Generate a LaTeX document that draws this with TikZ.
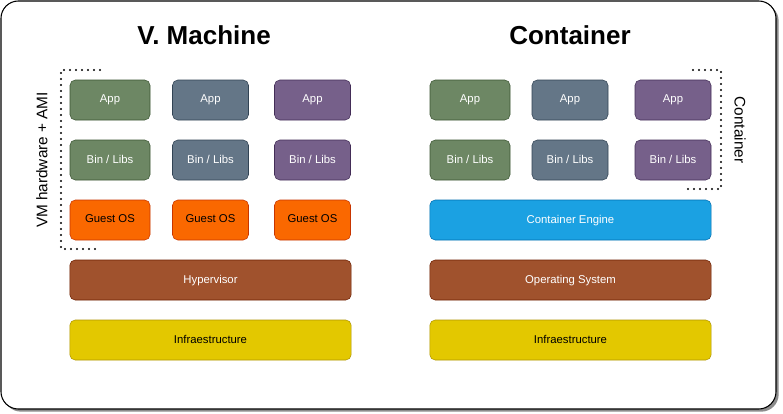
\documentclass[tikz,border=0pt]{standalone}
\usepackage{fontspec}
\setmainfont{Liberation Sans}
\usetikzlibrary{shadows}

\definecolor{appgreen}{HTML}{6D8764}
\definecolor{appgreenline}{HTML}{3A5431}
\definecolor{appslate}{HTML}{647687}
\definecolor{appslateline}{HTML}{314354}
\definecolor{apppurple}{HTML}{76608A}
\definecolor{apppurpleline}{HTML}{432D57}
\definecolor{osorange}{HTML}{FA6800}
\definecolor{osorangeline}{HTML}{C73500}
\definecolor{hyperbrown}{HTML}{A0522D}
\definecolor{hyperbrownline}{HTML}{6D1F00}
\definecolor{infrayellow}{HTML}{E3C800}
\definecolor{infrayellowline}{HTML}{B09500}
\definecolor{engineblue}{HTML}{1BA1E2}
\definecolor{engineblueline}{HTML}{006EAF}

\begin{document}
\begin{tikzpicture}[
  x=0.75pt, y=-0.75pt,
  layer/.style={rounded corners=4pt, thin, minimum height=30pt, inner sep=0pt,
    font=\fontsize{8.5}{10}\selectfont, text=white, text depth=0.3ex},
  small/.style={layer, minimum width=57pt},
  wide/.style={layer, minimum width=211pt},
  green/.style={fill=appgreen, draw=appgreenline},
  slate/.style={fill=appslate, draw=appslateline},
  purple/.style={fill=apppurple, draw=apppurpleline},
  guest/.style={fill=osorange, draw=osorangeline, text=black},
  title/.style={font=\bfseries\fontsize{19.5}{23}\selectfont},
  side/.style={font=\fontsize{11.5}{13}\selectfont},
  bracket/.style={dash pattern=on 0pt off 4.5pt, line width=1.6pt, line cap=round}
]
\useasboundingbox (0,0) rectangle (783,414);
\draw[rounded corners=13pt, line width=0.8pt, fill=white,
  drop shadow={shadow xshift=2pt, shadow yshift=-2pt, fill=black!45, opacity=1}]
  (1,1) rectangle (776,409);

% titles
\node[title] (vmtitle) at (204,35) {V. Machine};
\node[title] (cttitle) at (570,35) {Container};

% virtual machine side
\node[small, green, minimum width=60pt]  (vmapp1) at (110,100) {App};
\node[small, slate]  (vmapp2) at (210.5,100) {App};
\node[small, purple] (vmapp3) at (312.5,100) {App};
\node[small, green, minimum width=60pt]  (vmbin1) at (110,160) {Bin / Libs};
\node[small, slate]  (vmbin2) at (210.5,160) {Bin / Libs};
\node[small, purple] (vmbin3) at (312.5,160) {Bin / Libs};
\node[small, guest, minimum width=60pt]  (vmos1) at (110,220) {Guest OS};
\node[small, guest]  (vmos2) at (210.5,220) {Guest OS};
\node[small, guest]  (vmos3) at (312.5,220) {Guest OS};
\node[wide, fill=hyperbrown, draw=hyperbrownline] (hyper) at (210.5,280) {Hypervisor};
\node[wide, fill=infrayellow, draw=infrayellowline, text=black] (vminfra) at (210.5,340) {Infraestructure};

% container side
\node[small, green, minimum width=60pt]  (ctapp1) at (470,100) {App};
\node[small, slate]  (ctapp2) at (570,100) {App};
\node[small, purple] (ctapp3) at (673,100) {App};
\node[small, green, minimum width=60pt]  (ctbin1) at (470,160) {Bin / Libs};
\node[small, slate]  (ctbin2) at (570,160) {Bin / Libs};
\node[small, purple] (ctbin3) at (673,160) {Bin / Libs};
\node[wide, fill=engineblue, draw=engineblueline] (engine) at (570.5,220) {Container Engine};
\node[wide, fill=hyperbrown, draw=hyperbrownline] (hostos) at (570.5,280) {Operating System};
\node[wide, fill=infrayellow, draw=infrayellowline, text=black] (ctinfra) at (570.5,340) {Infraestructure};

% brackets
\draw[bracket] (100,70) -- (61,70) -- (61,249) -- (98,249);
\node[side, rotate=90] (vmlabel) at (42,160) {VM hardware + AMI};
\draw[bracket] (693,70) -- (721,70) -- (721,189) -- (683,189);
\node[side, rotate=-90] (ctlabel) at (740,130) {Container};
\end{tikzpicture}
\end{document}
